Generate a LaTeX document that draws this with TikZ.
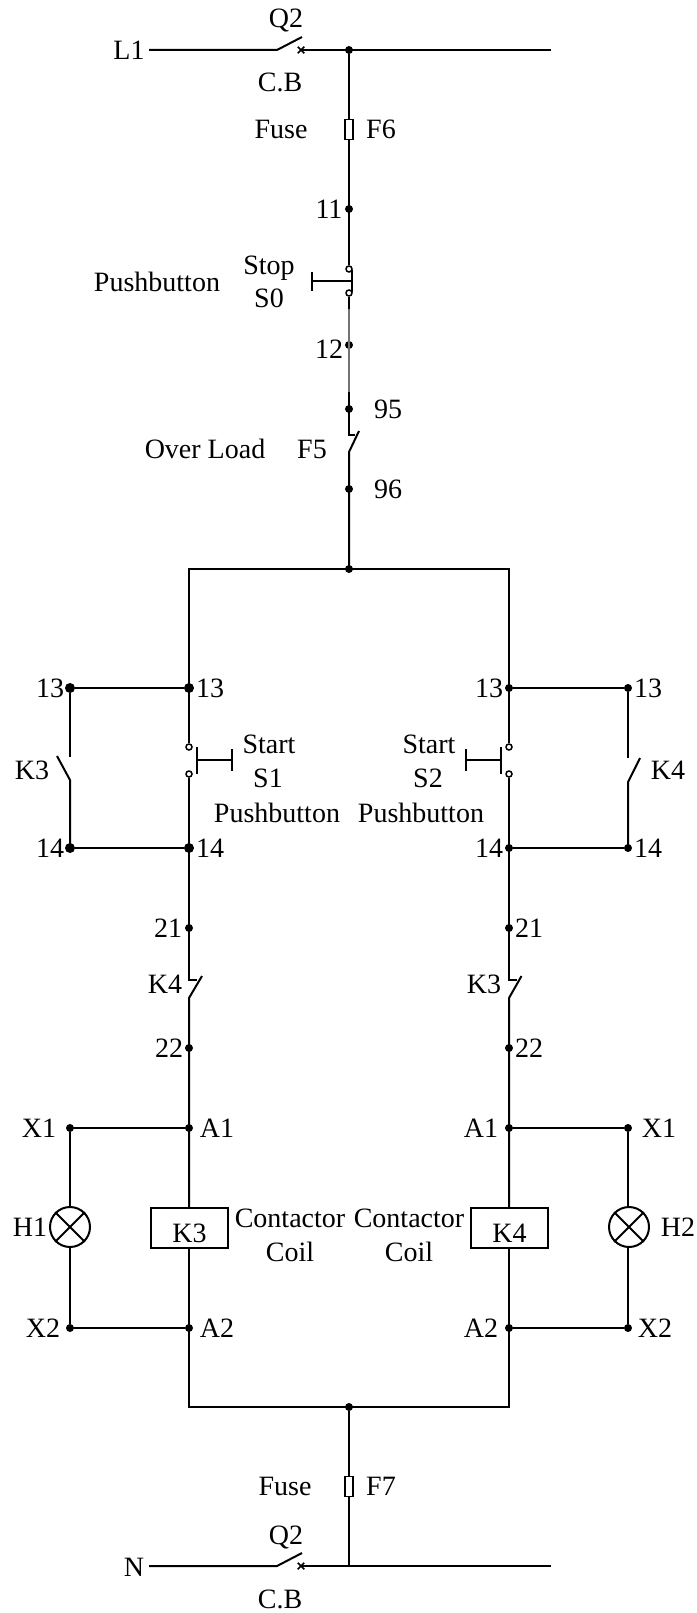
\documentclass[tikz,border=0pt]{standalone}
\usepackage{fontspec}
\setmainfont{Liberation Serif}
\usetikzlibrary{shapes.misc}
\tikzset{
  wire/.style={line width=2pt,black,line cap=butt},
  thinwire/.style={line width=1.6pt,black!55},
  jdot/.style={circle,fill=black,inner sep=0pt,minimum size=8pt},
  bigdot/.style={circle,fill=black,inner sep=0pt,minimum size=10pt},
  odot/.style={circle,draw=black,line width=1.5pt,fill=white,inner sep=0pt,minimum size=6pt},
  xmark/.style={cross out,draw=black,line width=1.5pt,inner sep=0pt,minimum size=5pt},
  fusebox/.style={rectangle,draw=black,line width=1.5pt,fill=white,inner sep=0pt,minimum width=8pt,minimum height=20pt},
  coilbox/.style={rectangle,draw=black,line width=2pt,fill=white,inner sep=0pt,minimum width=77pt,minimum height=40pt},
  lampc/.style={circle,draw=black,line width=2pt,fill=white,inner sep=0pt,minimum size=40pt},
  lbl/.style={inner sep=0pt,font=\fontsize{28}{30}\selectfont,text height=18.5pt,text depth=0pt,anchor=center}
}
\begin{document}
\begin{tikzpicture}[x=1pt,y=-1pt]
\useasboundingbox (0,0) rectangle (696,1613);
% ---- top feeder
\coordinate (l1s) at (149,50);
\coordinate (l1e) at (551,50);
\coordinate (q1a) at (277,50);
\coordinate (q1b) at (302,37);
\node[xmark] (q1x) at (301,50) {};
\node[jdot] (top) at (349,50) {};
\draw[wire] (l1s) -- (q1a) -- (q1b);
\draw[wire] (q1x.center) -- (l1e);
\node[fusebox] (f6) at (349,129.5) {};
\node[jdot] (d11) at (349,209) {};
\node[odot] (s0a) at (349,269) {};
\node[odot] (s0b) at (349,293) {};
\coordinate (s0g1) at (349,309);
\node[jdot] (d12) at (349,345) {};
\coordinate (s0g2) at (349,392);
\node[jdot] (d95) at (349,409) {};
\coordinate (f5h) at (349,435);
\coordinate (f5i) at (355,435);
\coordinate (f5t) at (359,431);
\coordinate (f5b) at (349,452);
\node[jdot] (d96) at (349,489) {};
\node[jdot] (tj) at (349,569) {};
\draw[wire] (top) -- (f6);
\draw[wire] (f6) -- (d11.center) -- (s0a);
\draw[wire] (s0b) -- (s0g1);
\draw[thinwire] (s0g1) -- (s0g2);
\draw[wire] (s0g2) -- (f5h) -- (f5i);
\draw[wire] (f5t) -- (f5b) -- (d96.center) -- (tj.center);
% stop button
\coordinate (s0l1) at (312,272); \coordinate (s0l2) at (312,291);
\coordinate (s0r1) at (352,270); \coordinate (s0r2) at (352,292);
\coordinate (s0l) at (312,281); \coordinate (s0r) at (352,281);
\draw[wire] (s0l1) -- (s0l2);
\draw[wire] (s0r1) -- (s0r2);
\draw[wire] (s0l) -- (s0r);
% ---- main rails
\coordinate (ltop) at (189,569);
\coordinate (rtop) at (509,569);
\coordinate (lbot) at (189,1407);
\coordinate (rbot) at (509,1407);
\draw[wire] ([xshift=-1pt]ltop) -- ([xshift=1pt]rtop);
\draw[wire] ([xshift=-1pt]lbot) -- ([xshift=1pt]rbot);
% left branch
\node[bigdot] (l13) at (189,688) {};
\node[bigdot] (ll13) at (70,688) {};
\node[bigdot] (l14) at (189,848) {};
\node[bigdot] (ll14) at (70,848) {};
\node[odot] (s1a) at (189,747) {};
\node[odot] (s1b) at (189,774) {};
\node[jdot] (l21) at (189,928) {};
\coordinate (k4h) at (189,980);
\coordinate (k4i) at (197,980);
\coordinate (k4t) at (202,976);
\coordinate (k4b) at (189,998);
\node[jdot] (l22) at (189,1048) {};
\node[jdot] (la1) at (189,1128) {};
\node[coilbox] (k3c) at (189.5,1228) {};
\node[lbl] (k3lab) at (189.5,1233) {K3};
\node[jdot] (la2) at (189,1328) {};
\node[jdot] (lx1) at (70,1128) {};
\node[jdot] (lx2) at (70,1328) {};
\node[lampc] (h1) at (70,1227) {};
\draw[wire] (h1.45) -- (h1.225);
\draw[wire] (h1.135) -- (h1.315);
\coordinate (k3t) at (70,757);
\coordinate (k3a) at (57,756);
\coordinate (k3b) at (70,780);
\draw[wire] (ltop) -- (l13.center) -- (s1a);
\draw[wire] (s1b) -- (l14.center) -- (l21.center) -- (k4h) -- (k4i);
\draw[wire] (k4t) -- (k4b) -- (l22.center) -- (la1.center) -- (la1.center |- k3c.north);
\draw[wire] (la2.center |- k3c.south) -- (la2.center) -- ([yshift=-1pt]lbot);
\draw[wire] (l13) -- (ll13);
\draw[wire] (l14) -- (ll14);
\draw[wire] (ll13) -- (k3t);
\draw[wire] (k3a) -- (k3b) -- (ll14.center);
\draw[wire] (la1) -- (lx1);
\draw[wire] (la2) -- (lx2);
\draw[wire] (lx1) -- (h1);
\draw[wire] (h1) -- (lx2);
% S1 button
\coordinate (s1l1) at (197,747); \coordinate (s1l2) at (197,774);
\coordinate (s1r1) at (232,749); \coordinate (s1r2) at (232,771);
\coordinate (s1l) at (197,760); \coordinate (s1r) at (232,760);
\draw[wire] (s1l1) -- (s1l2);
\draw[wire] (s1r1) -- (s1r2);
\draw[wire] (s1l) -- (s1r);
% right branch
\node[jdot] (r13) at (509,688) {};
\node[jdot] (rr13) at (628,688) {};
\node[jdot] (r14) at (509,848) {};
\node[jdot] (rr14) at (628,848) {};
\node[odot] (s2a) at (509,747) {};
\node[odot] (s2b) at (509,774) {};
\node[jdot] (r21) at (509,928) {};
\coordinate (k3h) at (509,980);
\coordinate (k3i) at (516.5,980);
\coordinate (k3ct) at (521.5,976);
\coordinate (k3cb) at (509,998);
\node[jdot] (r22) at (509,1048) {};
\node[jdot] (ra1) at (509,1128) {};
\node[coilbox] (k4c) at (509.5,1228) {};
\node[lbl] (k4lab) at (509.5,1233) {K4};
\node[jdot] (ra2) at (509,1328) {};
\node[jdot] (rx1) at (628,1128) {};
\node[jdot] (rx2) at (628,1328) {};
\node[lampc] (h2) at (629,1227) {};
\draw[wire] (h2.45) -- (h2.225);
\draw[wire] (h2.135) -- (h2.315);
\coordinate (k4t) at (628,758);
\coordinate (k4a) at (640,758);
\coordinate (k4bb) at (628,782);
\draw[wire] (rtop) -- (r13.center) -- (s2a);
\draw[wire] (s2b) -- (r14.center) -- (r21.center) -- (k3h) -- (k3i);
\draw[wire] (k3ct) -- (k3cb) -- (r22.center) -- (ra1.center) -- (ra1.center |- k4c.north);
\draw[wire] (ra2.center |- k4c.south) -- (ra2.center) -- ([yshift=-1pt]rbot);
\draw[wire] (r13) -- (rr13);
\draw[wire] (r14) -- (rr14);
\draw[wire] (rr13) -- (k4t);
\draw[wire] (k4a) -- (k4bb) -- (rr14.center);
\draw[wire] (ra1) -- (rx1);
\draw[wire] (ra2) -- (rx2);
\draw[wire] (rx1) -- (rx1 |- h2.north);
\draw[wire] (rx2 |- h2.south) -- (rx2);
% S2 button
\coordinate (s2l1) at (501,747); \coordinate (s2l2) at (501,774);
\coordinate (s2r1) at (466,749); \coordinate (s2r2) at (466,771);
\coordinate (s2l) at (501,760); \coordinate (s2r) at (466,760);
\draw[wire] (s2l1) -- (s2l2);
\draw[wire] (s2r1) -- (s2r2);
\draw[wire] (s2l) -- (s2r);
% ---- bottom feeder
\node[jdot] (bj) at (349,1407) {};
\node[fusebox] (f7) at (349,1486.5) {};
\coordinate (nj) at (349,1567);
\coordinate (ns) at (149,1566);
\coordinate (ne) at (551,1566);
\coordinate (q2a) at (277,1566);
\coordinate (q2b) at (302,1553);
\node[xmark] (q2x) at (301,1566) {};
\draw[wire] (ns) -- (q2a) -- (q2b);
\draw[wire] (q2x.center) -- (ne);
\draw[wire] (bj) -- (f7);
\draw[wire] (f7) -- (nj);
% ---- labels
\node[lbl] (tL1) at (129,50) {L1};
\node[lbl] (tQ2a) at (286,18) {Q2};
\node[lbl] (tCBa) at (280,82) {C.B};
\node[lbl] (tFa) at (281,129) {Fuse};
\node[lbl] (tF6) at (381,129) {F6};
\node[lbl] (t11) at (329,209) {11};
\node[lbl] (tStop) at (269,265) {Stop};
\node[lbl] (tS0) at (269,298) {S0};
\node[lbl] (tPB0) at (157,282) {Pushbutton};
\node[lbl] (t12) at (329,349) {12};
\node[lbl] (t95) at (388,409) {95};
\node[lbl] (tOL) at (205,449) {Over Load};
\node[lbl] (tF5) at (312,449) {F5};
\node[lbl] (t96) at (388,489) {96};
\node[lbl] (t13a) at (50,688) {13};
\node[lbl] (t13b) at (210,688) {13};
\node[lbl] (t13c) at (489,688) {13};
\node[lbl] (t13d) at (648,688) {13};
\node[lbl] (tK3) at (32,770) {K3};
\node[lbl] (tK4) at (668,770) {K4};
\node[lbl] (tSt1) at (269,744) {Start};
\node[lbl] (tS1) at (268,778) {S1};
\node[lbl] (tPB1) at (277,813) {Pushbutton};
\node[lbl] (tSt2) at (429,744) {Start};
\node[lbl] (tS2) at (428,778) {S2};
\node[lbl] (tPB2) at (421,813) {Pushbutton};
\node[lbl] (t14a) at (50,848) {14};
\node[lbl] (t14b) at (210,848) {14};
\node[lbl] (t14c) at (489,848) {14};
\node[lbl] (t14d) at (648,848) {14};
\node[lbl] (t21a) at (168,928) {21};
\node[lbl] (t21b) at (529,928) {21};
\node[lbl] (tK4b) at (165,984) {K4};
\node[lbl] (tK3b) at (484,984) {K3};
\node[lbl] (t22a) at (169,1048) {22};
\node[lbl] (t22b) at (529,1048) {22};
\node[lbl] (tX1a) at (39,1128) {X1};
\node[lbl] (tA1a) at (217,1128) {A1};
\node[lbl] (tA1b) at (481,1128) {A1};
\node[lbl] (tX1b) at (659,1128) {X1};
\node[lbl] (tH1) at (30,1227) {H1};
\node[lbl] (tH2) at (678,1227) {H2};
\node[lbl] (tCa) at (290,1218) {Contactor};
\node[lbl] (tCoa) at (290,1252) {Coil};
\node[lbl] (tCb) at (409,1218) {Contactor};
\node[lbl] (tCob) at (409,1252) {Coil};
\node[lbl] (tX2a) at (43,1328) {X2};
\node[lbl] (tA2a) at (217,1328) {A2};
\node[lbl] (tA2b) at (481,1328) {A2};
\node[lbl] (tX2b) at (655,1328) {X2};
\node[lbl] (tFb) at (285,1486) {Fuse};
\node[lbl] (tF7) at (381,1486) {F7};
\node[lbl] (tN) at (134,1567) {N};
\node[lbl] (tQ2b) at (286,1535) {Q2};
\node[lbl] (tCBb) at (280,1599) {C.B};
\end{tikzpicture}
\end{document}
